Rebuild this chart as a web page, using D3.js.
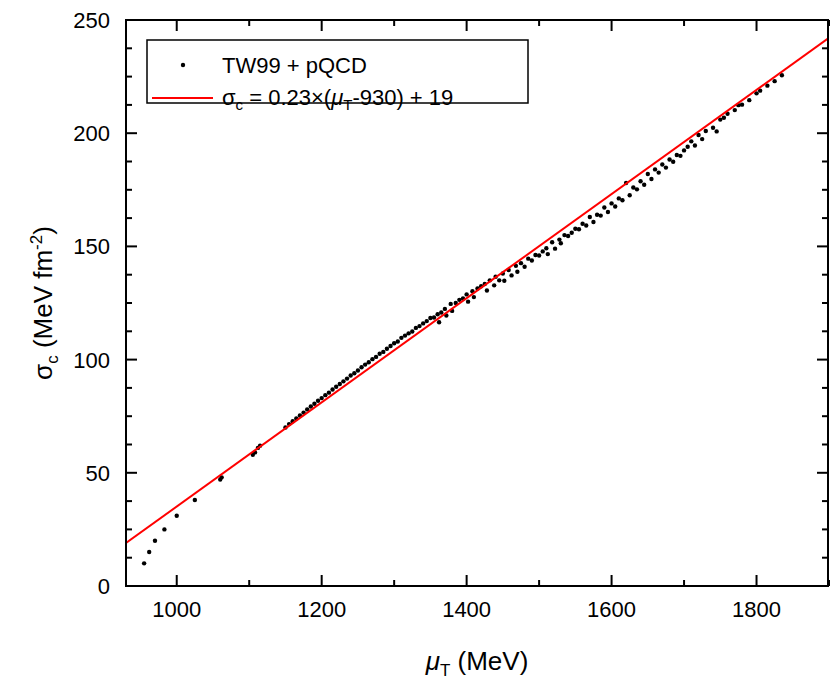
<!DOCTYPE html>
<html>
<head>
<meta charset="utf-8">
<script src="https://cdn.jsdelivr.net/npm/d3@7"></script>
<style>
  body { margin: 0; background: #fff; }
  text { font-family: "Liberation Sans", Arial, sans-serif; }
</style>
</head>
<body>
<div id="chart"></div>
<script>
// --- Data ---
const muT = [955, 962, 970, 983, 1000, 1025, 1060, 1062, 1105, 1108, 1112, 1115,
  1150, 1155, 1160, 1165, 1170, 1175, 1180, 1185, 1190, 1195, 1200, 1205, 1210, 1215,
  1220, 1225, 1230, 1235, 1240, 1245, 1250, 1255, 1260, 1265, 1270, 1275, 1280, 1285,
  1290, 1295, 1300, 1305, 1310, 1315, 1320, 1325, 1330, 1335, 1340, 1345, 1350, 1355,
  1360, 1362, 1365, 1370, 1372, 1378, 1380, 1385, 1390, 1395, 1400, 1402, 1408, 1410,
  1415, 1420, 1425, 1428, 1432, 1438, 1440, 1445, 1450, 1452, 1458, 1462, 1468, 1470,
  1475, 1480, 1485, 1490, 1495, 1500, 1505, 1510, 1512, 1518, 1522, 1528, 1530, 1535,
  1540, 1545, 1550, 1555, 1560, 1565, 1570, 1575, 1580, 1585, 1590, 1595, 1600, 1605,
  1610, 1615, 1620, 1625, 1630, 1635, 1640, 1645, 1650, 1655, 1660, 1665, 1670, 1675,
  1680, 1685, 1690, 1695, 1700, 1705, 1710, 1715, 1720, 1725, 1730, 1740, 1745, 1750,
  1755, 1760, 1770, 1775, 1780, 1790, 1800, 1805, 1815, 1825, 1835];
const sigmaC = [10, 15, 20, 25, 31, 38, 47, 48, 58, 59, 61, 62,
  70, 71.5, 72.8, 74, 75.3, 76.6, 78, 79.3, 80.5, 81.8, 83, 84.3, 85.4, 86.8,
  88, 89.2, 90.4, 91.6, 93, 94, 95.2, 96.6, 97.8, 98.8, 100.2, 101.2, 102.6, 103.4,
  104.8, 106, 107.2, 108, 109.6, 110.6, 111.6, 112.4, 114, 114.8, 116, 117, 118.4, 118.6,
  120, 116.5, 120.8, 122.4, 119.5, 124.6, 121.5, 125, 126.4, 127, 128.8, 125.6, 130.2, 127.6,
  131.4, 132.4, 133.4, 130.5, 135, 132.8, 136.6, 135, 138, 134.8, 139.6, 137.2, 141.4, 138.8,
  142.6, 141, 144.6, 143.8, 146.2, 146, 147.8, 149.2, 146.6, 151.8, 149, 153, 151.4, 155,
  154.6, 156, 157.8, 157.6, 160, 159.2, 163, 160.8, 164, 163.6, 167.2, 165.2, 169, 167.6,
  171.2, 170.4, 178, 172.6, 176, 175.2, 178.8, 177.2, 182, 179.8, 184, 182.6, 186.2, 184.8,
  188.4, 187.4, 190.4, 190, 192.4, 194, 196.4, 194.6, 199.2, 197.4, 201, 202.4, 200.8, 206,
  206.8, 208.6, 210.2, 212.4, 212.6, 214.6, 217.6, 218.8, 221, 223, 225.6];
// fitted line: sigma_c = 0.23 * (muT - 930) + 19
const fitX = [930, 1900];
const fitY = [19, 242.1];
const xTicks = [1000, 1200, 1400, 1600, 1800];
const yTicks = [0, 50, 100, 150, 200, 250];

// --- Layout ---
const W = 830, H = 689;
const svg = d3.select("#chart").append("svg").attr("width", W).attr("height", H);
const x = d3.scaleLinear().domain([930, 1900]).range([126, 829]);
const y = d3.scaleLinear().domain([0, 250]).range([586, 20]);
const pL = 126, pR = 828, pT = 20, pB = 586;

// --- Points ---
svg.append("g").selectAll("circle")
  .data(muT.map((m, i) => [m, sigmaC[i]]))
  .join("circle")
  .attr("cx", d => x(d[0])).attr("cy", d => y(d[1]))
  .attr("r", 2.2).attr("fill", "#000");

// --- Fit line (clipped to frame) ---
svg.append("clipPath").attr("id", "clip").append("rect")
  .attr("x", pL).attr("y", pT).attr("width", pR - pL).attr("height", pB - pT);
svg.append("line").attr("clip-path", "url(#clip)")
  .attr("x1", x(fitX[0])).attr("y1", y(fitY[0]))
  .attr("x2", x(fitX[1])).attr("y2", y(fitY[1]))
  .attr("stroke", "#f00").attr("stroke-width", 2);

// --- Frame ---
svg.append("rect").attr("x", pL).attr("y", pT)
  .attr("width", pR - pL).attr("height", pB - pT)
  .attr("fill", "none").attr("stroke", "#000").attr("stroke-width", 2);

// --- Ticks (inward, mirrored) ---
const tk = svg.append("g").attr("stroke", "#000").attr("stroke-width", 2);
d3.range(1000, 1901, 100).forEach(v => {
  const L = v % 200 === 0 ? 11 : 6;
  tk.append("line").attr("x1", x(v)).attr("x2", x(v)).attr("y1", pB).attr("y2", pB - L);
  tk.append("line").attr("x1", x(v)).attr("x2", x(v)).attr("y1", pT).attr("y2", pT + L);
});
d3.range(0, 251, 12.5).forEach(v => {
  const L = v % 50 === 0 ? 11 : 6;
  tk.append("line").attr("y1", y(v)).attr("y2", y(v)).attr("x1", pL).attr("x2", pL + L);
  tk.append("line").attr("y1", y(v)).attr("y2", y(v)).attr("x1", pR).attr("x2", pR - L);
});

// --- Tick labels ---
svg.selectAll(".xt").data(xTicks).join("text")
  .attr("x", d => x(d)).attr("y", 617).attr("text-anchor", "middle")
  .style("font-size", "22px").text(d => d);
svg.selectAll(".yt").data(yTicks).join("text")
  .attr("x", 110).attr("y", d => y(d) + 8).attr("text-anchor", "end")
  .style("font-size", "22px").text(d => d);

// --- Axis titles ---
const xt = svg.append("text").attr("x", 477).attr("y", 670)
  .attr("text-anchor", "middle").style("font-size", "26px");
xt.append("tspan").style("font-style", "italic").text("μ");
xt.append("tspan").attr("dy", 6).style("font-size", "17px").text("T");
xt.append("tspan").attr("dy", -6).text(" (MeV)");

const yt = svg.append("text").attr("transform", "translate(52,303) rotate(-90)")
  .attr("text-anchor", "middle").style("font-size", "26px");
yt.append("tspan").text("σ");
yt.append("tspan").attr("dy", 6).style("font-size", "17px").text("c");
yt.append("tspan").attr("dy", -6).text(" (MeV fm");
yt.append("tspan").attr("dy", -10).style("font-size", "17px").text("-2");
yt.append("tspan").attr("dy", 10).text(")");

// --- Legend ---
const lg = svg.append("g");
lg.append("rect").attr("x", 147).attr("y", 40).attr("width", 381).attr("height", 63)
  .attr("fill", "#fff").attr("stroke", "#000").attr("stroke-width", 1.5);
lg.append("circle").attr("cx", 183).attr("cy", 65).attr("r", 2.2).attr("fill", "#000");
lg.append("text").attr("x", 222).attr("y", 73).style("font-size", "22px").text("TW99 + pQCD");
lg.append("line").attr("x1", 152).attr("x2", 213).attr("y1", 98).attr("y2", 98)
  .attr("stroke", "#f00").attr("stroke-width", 2);
const l2 = lg.append("text").attr("x", 222).attr("y", 105).style("font-size", "22px");
l2.append("tspan").text("σ");
l2.append("tspan").attr("dy", 5).style("font-size", "15px").text("c");
l2.append("tspan").attr("dy", -5).text(" = 0.23×(");
l2.append("tspan").style("font-style", "italic").text("μ");
l2.append("tspan").attr("dy", 5).style("font-size", "15px").text("T");
l2.append("tspan").attr("dy", -5).text("-930) + 19");
</script>
</body>
</html>
